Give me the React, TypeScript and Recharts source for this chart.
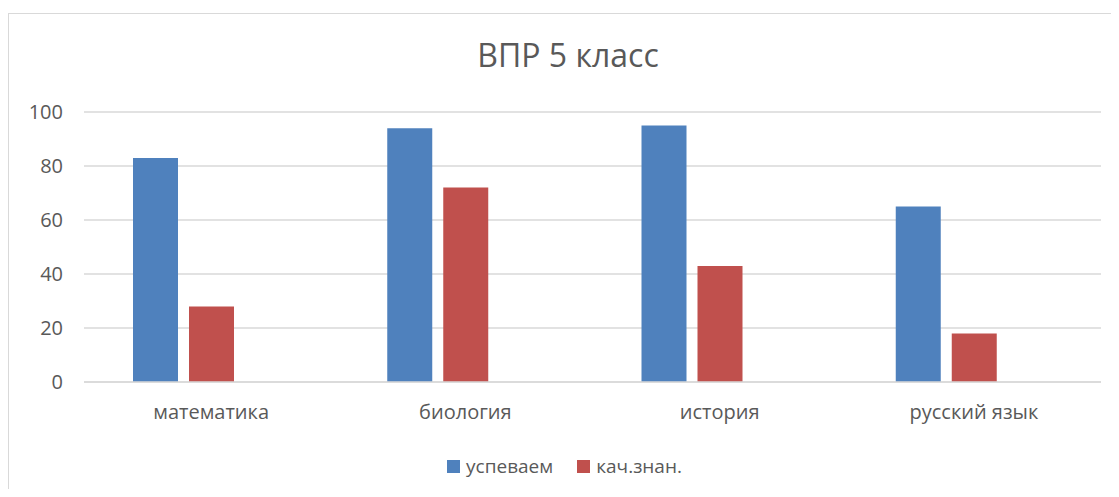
import React from "react";
import { BarChart, Bar, XAxis, YAxis, CartesianGrid, Legend } from "recharts";

const categories = ["математика", "биология", "история", "русский язык"];
const uspevaem = [83, 94, 95, 65];
const kachZnan = [28, 72, 43, 18];
const emptySeries = [null, null, null, null];
const yTicks = [0, 20, 40, 60, 80, 100];
const seriesNames = ["успеваем", "кач.знан."];
const seriesColors = ["#4f81bd", "#c0504d"];

const data = categories.map((name, i) => ({
  name,
  uspevaem: uspevaem[i],
  kach: kachZnan[i],
  empty: emptySeries[i],
}));

const FONT = "'Open Sans', 'Noto Sans', sans-serif";
const TXT = "#595959";

const LegendContent = () => (
  <div style={{ display: "flex", justifyContent: "center", alignItems: "center", fontFamily: FONT, fontSize: 19, color: TXT, paddingLeft: 10 }}>
    {seriesNames.map((n, i) => (
      <div key={n} style={{ display: "flex", alignItems: "center", marginRight: i === 0 ? 24 : 0 }}>
        <span style={{ display: "inline-block", width: 13, height: 13, background: seriesColors[i], marginRight: 6 }} />
        <span>{n}</span>
      </div>
    ))}
  </div>
);

export default function App() {
  return (
    <div style={{ position: "relative", width: 1119, height: 497, margin: -8, overflow: "hidden", background: "#fff", fontFamily: FONT }}>
      <div style={{ position: "absolute", left: 8, top: 13, width: 1120, height: 500, border: "1px solid #d9d9d9", boxSizing: "border-box" }} />
      <div style={{ position: "absolute", left: 0, top: 33, width: 1136, textAlign: "center", fontSize: 32, color: TXT }}>ВПР 5 класс</div>
      <div style={{ position: "absolute", left: 0, top: 0 }}>
        <BarChart width={1119} height={497} data={data} margin={{ top: 112, right: 18, bottom: 59, left: 24 }} barSize={45} barGap={11}>
          <CartesianGrid vertical={false} stroke="#d9d9d9" strokeWidth={1.5} />
          <XAxis dataKey="name" height={30} tickLine={false} axisLine={{ stroke: "#d9d9d9", strokeWidth: 1.5 }} tick={{ fill: TXT, fontSize: 20, fontFamily: FONT }} tickMargin={17} />
          <YAxis width={60} domain={[0, 100]} ticks={yTicks} axisLine={false} tickLine={false} tick={{ fill: TXT, fontSize: 20, fontFamily: FONT }} tickMargin={15} />
          <Legend content={<LegendContent />} wrapperStyle={{ top: 453, bottom: "auto", left: 0, width: 1119 }} />
          <Bar dataKey="uspevaem" name="успеваем" fill="#4f81bd" isAnimationActive={false} />
          <Bar dataKey="kach" name="кач.знан." fill="#c0504d" isAnimationActive={false} />
          <Bar dataKey="empty" name="" fill="#9bbb59" legendType="none" isAnimationActive={false} />
        </BarChart>
      </div>
    </div>
  );
}
